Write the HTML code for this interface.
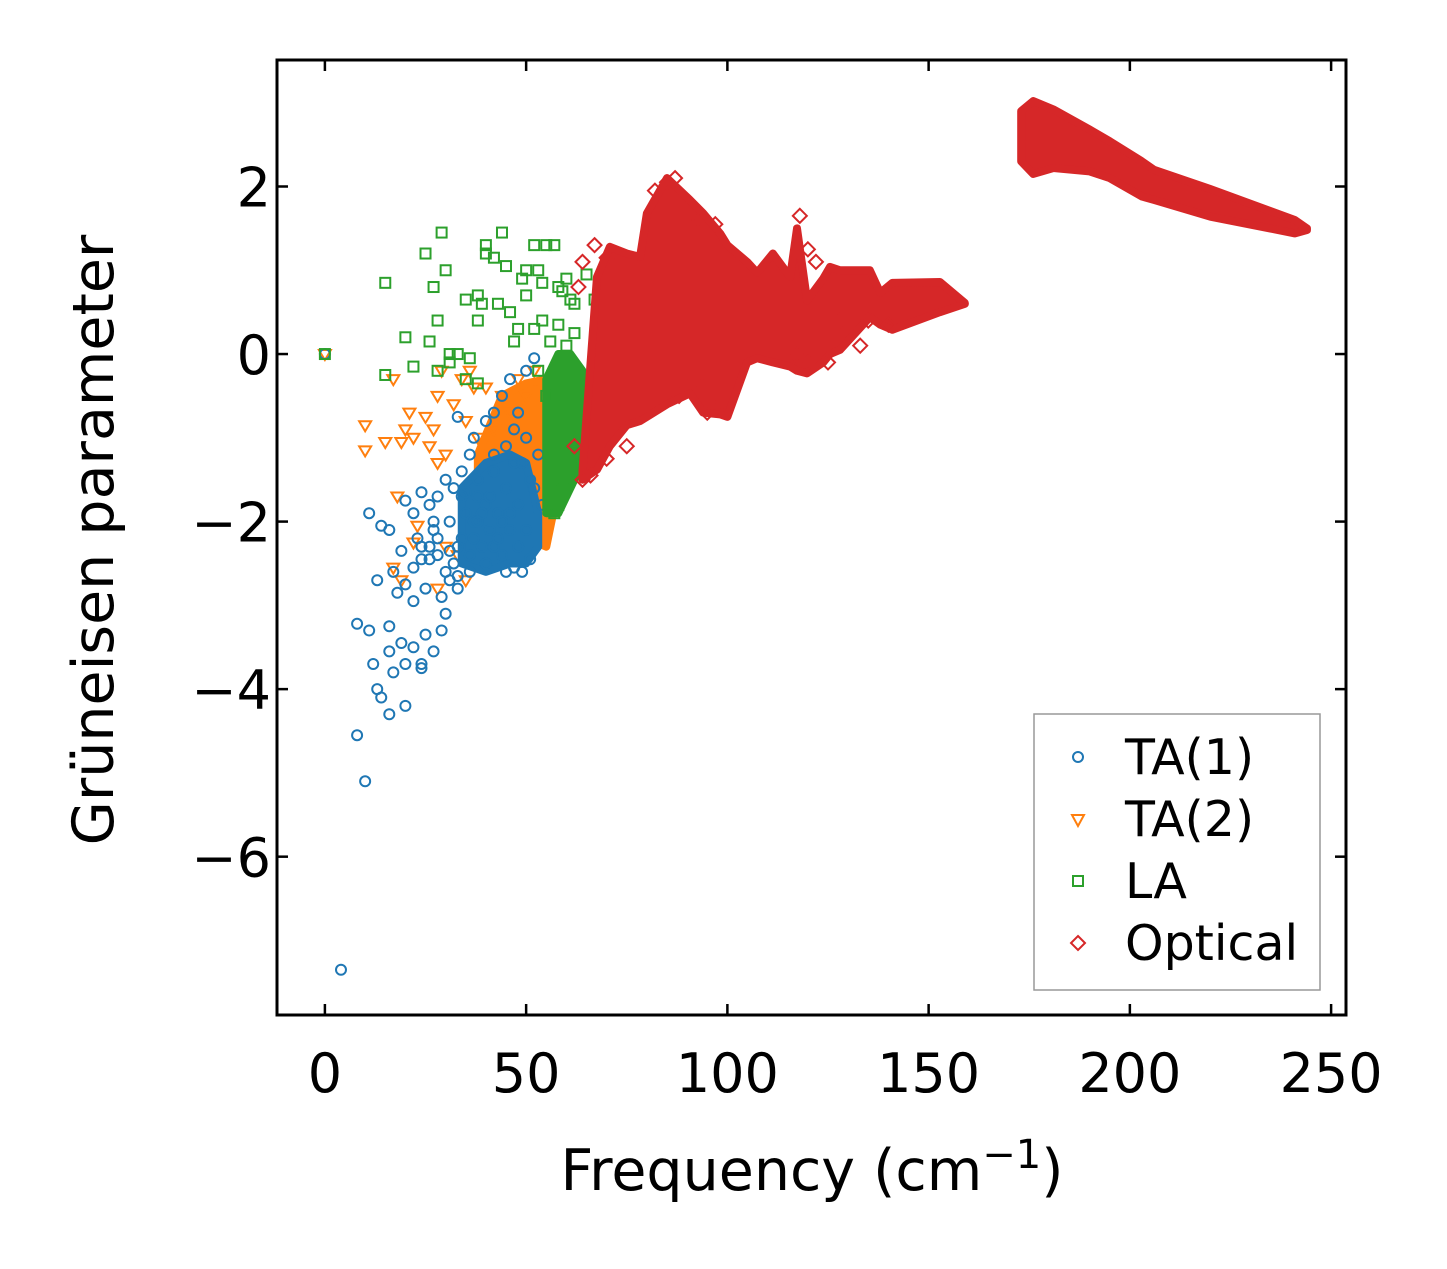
<!DOCTYPE html>
<html><head><meta charset="utf-8">
<style>
html,body{margin:0;padding:0;background:#fff;}
svg text{font-family:"DejaVu Sans","Liberation Sans",sans-serif;fill:#000;}
</style></head>
<body>
<svg id="chart" width="1447" height="1264" xmlns="http://www.w3.org/2000/svg">
<rect width="1447" height="1264" fill="#fff"/>
<g id="plot"></g>
<g id="axes"></g>
<text x="812" y="1190" font-size="57" text-anchor="middle">Frequency (cm<tspan dy="-22" font-size="40">−1</tspan><tspan dy="22">)</tspan></text>
<text x="0" y="0" font-size="57" text-anchor="middle" transform="translate(113,540) rotate(-90)">Grüneisen parameter</text>
<g>
<rect x="1034" y="714" width="286" height="276" fill="#fff" stroke="#999" stroke-width="1.5"/>
<circle cx="1078" cy="757" r="5" fill="none" stroke="#1f77b4" stroke-width="2"/>
<text x="1125" y="774" font-size="49">TA(1)</text>
<path d="M1072 815 L1084 815 L1078 826 Z" fill="none" stroke="#ff7f0e" stroke-width="2"/>
<text x="1125" y="836" font-size="49">TA(2)</text>
<rect x="1073" y="876" width="10" height="10" fill="none" stroke="#2ca02c" stroke-width="2"/>
<text x="1125" y="898" font-size="49">LA</text>
<path d="M1078 936 L1085 943 L1078 950 L1071 943 Z" fill="none" stroke="#d62728" stroke-width="2"/>
<text x="1125" y="960" font-size="49">Optical</text>
</g>
</svg>
<script>
const xTicks=[0,50,100,150,200,250];
const yTicks=[2,0,-2,-4,-6];
const ta1X=[0,4,10,8,13,14,16,20,12,8,11,16,17,20,24,24,19,22,25,27,29,16,13,11,14,16,17,18,19,20,22,22,23,24,25,26,27,28,29,30,31,32,33,34,35,36,37,38,39,40,41,42,43,44,45,46,47,48,49,50,51,52,33,37,40,42,44,46,48,50,52,34,36,38,42,45,47,49,51,53,54,20,22,24,26,28,30,32,34,36,38,40,42,44,46,48,31,33,35,37,39,41,43,45,47,50,26,28,30,24,27,31,33];
const ta1Y=[0,-7.35,-5.1,-4.55,-4.0,-4.1,-4.3,-4.2,-3.7,-3.22,-3.3,-3.25,-3.8,-3.7,-3.75,-3.7,-3.45,-3.5,-3.35,-3.55,-3.3,-3.55,-2.7,-1.9,-2.05,-2.1,-2.6,-2.85,-2.35,-2.75,-2.55,-2.95,-2.2,-2.45,-2.8,-2.3,-2.0,-2.4,-2.9,-3.1,-2.7,-2.5,-2.8,-2.2,-1.9,-2.6,-2.0,-1.7,-2.3,-1.8,-2.1,-1.4,-1.9,-2.4,-1.6,-2.1,-2.55,-1.8,-2.6,-2.1,-2.45,-1.6,-0.75,-1.0,-0.8,-1.2,-0.5,-0.3,-0.7,-0.2,-0.05,-1.4,-1.2,-1.5,-0.7,-1.1,-0.9,-1.3,-1.5,-1.2,-1.8,-1.75,-1.9,-1.65,-1.8,-1.7,-1.5,-1.6,-1.7,-2.4,-2.0,-2.5,-2.3,-2.0,-1.9,-2.3,-2.0,-2.3,-1.65,-2.2,-1.9,-1.7,-2.2,-2.6,-1.3,-1.0,-2.45,-2.2,-2.6,-2.3,-2.1,-2.35,-2.65];
const ta2X=[0,10,10,15,17,18,19,20,21,22,22,25,27,28,29,26,28,30,32,34,35,35,37,38,17,19,23,28,30,33,36,40,44,48,52,55,42,46,50];
const ta2Y=[0,-0.85,-1.15,-1.05,-0.3,-1.7,-1.05,-0.9,-0.7,-1.0,-2.25,-0.75,-0.9,-0.5,-0.2,-1.1,-1.3,-1.2,-0.6,-0.3,-0.8,-2.7,-0.4,-1.0,-2.55,-2.7,-2.05,-2.8,-2.3,-2.4,-0.2,-0.4,-0.5,-0.3,-0.2,-0.35,-0.9,-0.7,-0.5];
const laX=[0,15,15,20,22,25,27,28,29,30,26,31,33,35,36,38,38,39,40,40,42,43,44,45,46,47,48,49,50,50,52,53,54,55,57,58,59,60,61,62,65,67,52,54,56,58,60,62,35,38,28,31,53,55,57,58,59];
const laY=[0,0.85,-0.25,0.2,-0.15,1.2,0.8,0.4,1.45,1.0,0.15,0.0,0.0,0.65,-0.05,0.7,0.4,0.6,1.3,1.2,1.15,0.6,1.45,1.05,0.5,0.15,0.3,0.9,0.7,1.0,1.3,1.0,0.85,1.3,1.3,0.8,0.75,0.9,0.65,0.6,0.95,0.65,0.3,0.4,0.15,0.35,0.1,0.25,-0.3,-0.35,-0.2,-0.1,-0.2,-0.5,-1.9,-1.8,-1.5];
const optX=[85,87,82,93,97,118,120,122,133,128,125,120,117,95,97,75,70,66,64,62,63,64,67,70,92,88,135,140];
const optY=[2.05,2.1,1.95,1.6,1.55,1.65,1.25,1.1,0.1,0.4,-0.1,-0.1,0.0,-0.7,-0.65,-1.1,-1.25,-1.45,-1.5,-1.1,0.8,1.1,1.3,1.15,-0.3,-0.5,0.4,0.35];
// dense-region envelopes
const ta1BandX=[34,40,46,50,53];
const ta1BandHi=[-1.6,-1.3,-1.2,-1.3,-1.9];
const ta1BandLo=[-2.5,-2.6,-2.5,-2.5,-2.3];
const ta2BandX=[38,44,50,55,58];
const ta2BandHi=[-1.2,-0.5,-0.35,-0.3,-0.5];
const ta2BandLo=[-1.8,-2.0,-2.2,-2.3,-1.6];
const laBandX=[55,58,61,64];
const laBandHi=[-0.3,0.0,0.0,-0.2];
const laBandLo=[-1.9,-1.9,-1.6,-1.3];
const optBandX=[64,67.6,70.8,75,78.3,80,85,90.7,94,98.2,100,104.9,107.4,111.3,115.6,117.3,119.8,123.8,125.5,128,135.4,138,141,152.8,159];
const optBandHi=[-1.4,0.92,1.28,1.2,1.16,1.68,2.1,1.84,1.68,1.44,1.3,1.1,0.97,1.2,0.92,1.5,0.64,0.9,1.04,1.0,1.0,0.73,0.85,0.86,0.61];
const optBandLo=[-1.5,-1.38,-1.1,-0.85,-0.8,-0.75,-0.6,-0.47,-0.7,-0.72,-0.75,-0.1,-0.05,-0.1,-0.15,-0.2,-0.23,-0.1,0.0,0.05,0.44,0.35,0.29,0.5,0.6];
const opt2BandX=[173,176,181,190,195,203,206,220,241,244];
const opt2BandHi=[2.9,3.02,2.92,2.68,2.54,2.3,2.2,1.97,1.6,1.5];
const opt2BandLo=[2.3,2.15,2.22,2.18,2.1,1.88,1.84,1.64,1.44,1.48];

const L=277,T=60,R=1346,B=1015;
const xMin=-11.9,xMax=253.7,yMin=-7.89,yMax=3.51;
function sx(v){return L+(v-xMin)/(xMax-xMin)*(R-L);}
function sy(v){return B-(v-yMin)/(yMax-yMin)*(B-T);}
const NS='http://www.w3.org/2000/svg';
const plot=document.getElementById('plot');
const axes=document.getElementById('axes');
function mk(tag,attrs,parent){const e=document.createElementNS(NS,tag);for(const k in attrs)e.setAttribute(k,attrs[k]);parent.appendChild(e);return e;}
function band(xs,hi,lo,color,name){
  let d='';
  xs.forEach((x,i)=>{d+=(i?'L':'M')+sx(x)+' '+sy(hi[i])+' ';});
  for(let i=xs.length-1;i>=0;i--)d+='L'+sx(xs[i])+' '+sy(lo[i])+' ';
  const p=mk('path',{d:d+'Z',fill:color,stroke:color,'stroke-width':8,'stroke-linejoin':'round'},plot);
  
  
}
function points(xs,ys,color,shape,name){
  xs.forEach((x,i)=>{
    const cx=sx(x),cy=sy(ys[i]);let e;
    if(shape==='circle')e=mk('circle',{cx:cx,cy:cy,r:5},plot);
    else if(shape==='tri')e=mk('path',{d:`M${cx-6} ${cy-4}L${cx+6} ${cy-4}L${cx} ${cy+6}Z`},plot);
    else if(shape==='square')e=mk('rect',{x:cx-5,y:cy-5,width:10,height:10},plot);
    else e=mk('path',{d:`M${cx} ${cy-7}L${cx+7} ${cy}L${cx} ${cy+7}L${cx-7} ${cy}Z`},plot);
    e.setAttribute('fill','none');e.setAttribute('stroke',color);e.setAttribute('stroke-width','2');
    
    
  });
}
band(ta2BandX,ta2BandHi,ta2BandLo,'#ff7f0e','ta2-dense-region');
points(ta2X,ta2Y,'#ff7f0e','tri','ta2-point');
band(ta1BandX,ta1BandHi,ta1BandLo,'#1f77b4','ta1-dense-region');
points(ta1X,ta1Y,'#1f77b4','circle','ta1-point');
band(laBandX,laBandHi,laBandLo,'#2ca02c','la-dense-region');
points(laX,laY,'#2ca02c','square','la-point');
band(optBandX,optBandHi,optBandLo,'#d62728','optical-dense-region');
band(opt2BandX,opt2BandHi,opt2BandLo,'#d62728','optical-high-band');
points(optX,optY,'#d62728','diamond','optical-point');

const frame=mk('rect',{x:L,y:T,width:R-L,height:B-T,fill:'none',stroke:'#000','stroke-width':3},axes);


xTicks.forEach(v=>{
  const x=sx(v);
  mk('line',{x1:x,x2:x,y1:B,y2:B-11,stroke:'#000','stroke-width':2.5},axes);
  mk('line',{x1:x,x2:x,y1:T,y2:T+11,stroke:'#000','stroke-width':2.5},axes);
  const t=mk('text',{x:x,y:1092,'font-size':54,'text-anchor':'middle'},axes);
  t.textContent=String(v);
  
  
});
yTicks.forEach(v=>{
  const y=sy(v);
  mk('line',{x1:L,x2:L+11,y1:y,y2:y,stroke:'#000','stroke-width':2.5},axes);
  mk('line',{x1:R,x2:R-11,y1:y,y2:y,stroke:'#000','stroke-width':2.5},axes);
  const t=mk('text',{x:271,y:y+20,'font-size':54,'text-anchor':'end'},axes);
  t.textContent=(v<0?'−':'')+Math.abs(v);
  
  
});
</script>
</body></html>
